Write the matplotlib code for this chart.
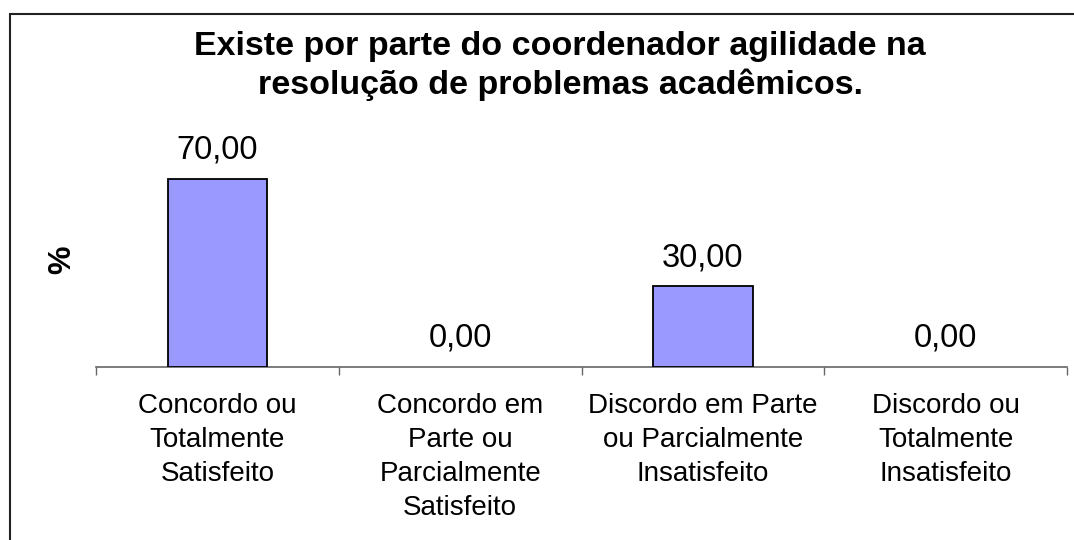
import matplotlib
matplotlib.use("Agg")
import matplotlib.pyplot as plt
from matplotlib.patches import Rectangle

categories = ["Concordo ou\nTotalmente\nSatisfeito",
              "Concordo em\nParte ou\nParcialmente\nSatisfeito",
              "Discordo em Parte\nou Parcialmente\nInsatisfeito",
              "Discordo ou\nTotalmente\nInsatisfeito"]
values = [70.00, 0.00, 30.00, 0.00]
value_labels = ["70,00", "0,00", "30,00", "0,00"]
title = "Existe por parte do coordenador agilidade na\nresolução de problemas acadêmicos."

plt.rcParams['font.family'] = ['Liberation Sans', 'DejaVu Sans']

W, H = 1074, 540
fig = plt.figure(figsize=(W / 100, H / 100), dpi=100)

ax = fig.add_axes([96 / W, (H - 367) / H, 971 / W, 215 / H])
x = list(range(len(categories)))
ax.bar(x, values, width=0.41, color='#9999FF', edgecolor='black',
       linewidth=[1.3 if v > 0 else 0 for v in values], zorder=3)
ax.set_xlim(-0.5, len(categories) - 0.5)
ax.set_ylim(0, 80)

for xi, v, lab in zip(x, values, value_labels):
    ax.annotate(lab, (xi, v), xytext=(0, 14.5), textcoords='offset points',
                ha='center', va='baseline', fontsize=23.5, color='black')

ax.set_xticks(x)
ax.set_xticklabels(categories, fontsize=20, linespacing=1.4)
ax.tick_params(axis='x', which='major', length=0, pad=19)
ax.set_xticks([i - 0.5 for i in range(len(categories) + 1)], minor=True)
ax.tick_params(axis='x', which='minor', length=6, width=1, color='#666666', direction='out')
ax.set_yticks([])
for s in ['top', 'right', 'left']:
    ax.spines[s].set_visible(False)
ax.spines['bottom'].set_color('#666666')
ax.spines['bottom'].set_linewidth(1.2)

fig.text(560 / W, 1 - 66 / H, title, ha='center', va='center', fontsize=24.5,
         fontweight='bold', linespacing=1.28)
fig.text(62 / W, 1 - 260 / H, "%", ha='center', va='center', rotation=90,
         fontsize=23, fontweight='bold')

fig.patches.append(Rectangle((10 / W, -0.1), 1.2, 1 - 14 / H + 0.1, transform=fig.transFigure,
                             fill=False, edgecolor='#222222', linewidth=1.5, clip_on=False))

fig.savefig("out.png", dpi=100)
